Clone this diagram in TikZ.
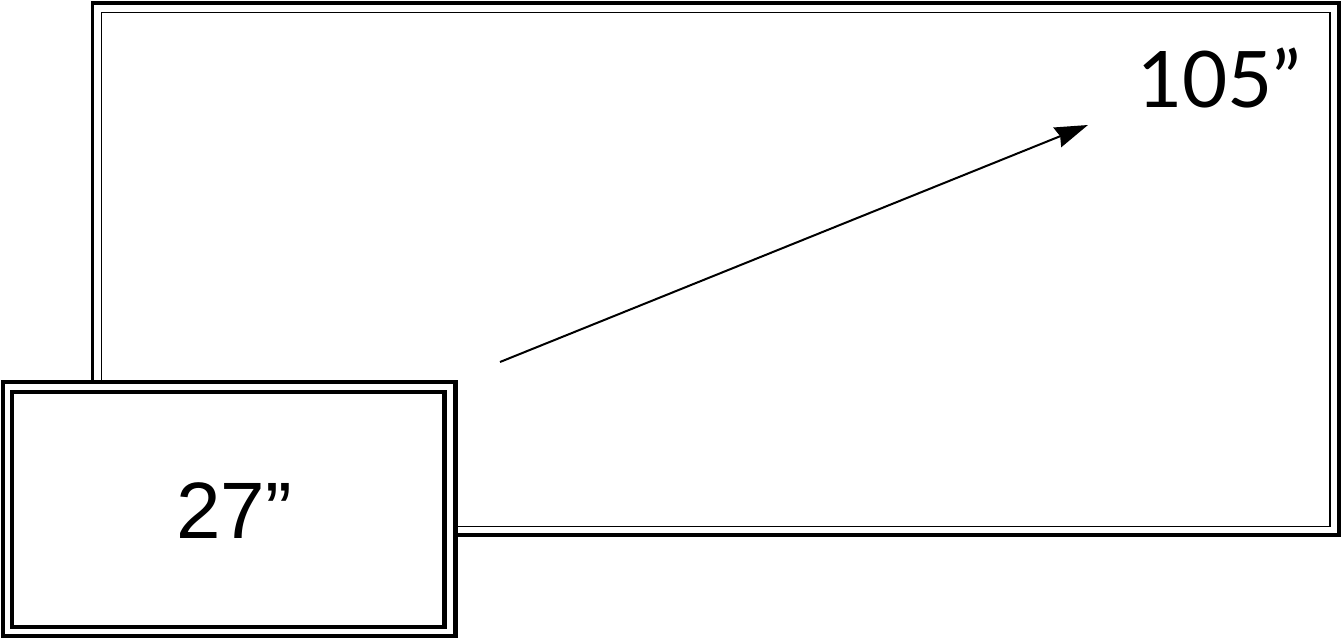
\documentclass[tikz,border=0pt]{standalone}
\usepackage{fontspec}
\setmainfont{Lato}
\newfontfamily\arialfont{Liberation Sans}
\usetikzlibrary{arrows.meta}
\begin{document}
\begin{tikzpicture}[x=1pt,y=-1pt,
  thickframe/.style={draw=black,line width=3.6pt},
  thinframe/.style={draw=black,line width=1.9pt},
  smallframe/.style={draw=black,line width=4.2pt},
  sizelabel/.style={inner sep=0pt,anchor=base west},
  diagarrow/.style={draw=black,line width=2pt,-{Stealth[length=33pt,width=21pt,inset=3pt]}}]
\useasboundingbox (0,0) rectangle (1342,639);
% large screen
\draw[thickframe] (92.5,3) rectangle (1339,535);
\draw[thinframe] (101.5,12.5) rectangle (1330,526.5);
% small screen
\draw[smallframe,fill=white] (3,382) rectangle (455.5,636);
\draw[smallframe] (12,392) rectangle (444.5,627);
% labels
\node[sizelabel,font=\fontsize{78}{78}\selectfont] (big) at (1137,108) {105”};
\node[sizelabel,font=\arialfont\fontsize{80}{80}\selectfont] (small) at (176,538) {27”};
% arrow
\coordinate (arrowstart) at (500,362);
\coordinate (arrowend) at (1088,125);
\draw[diagarrow] (arrowstart) -- (arrowend);
\end{tikzpicture}
\end{document}
